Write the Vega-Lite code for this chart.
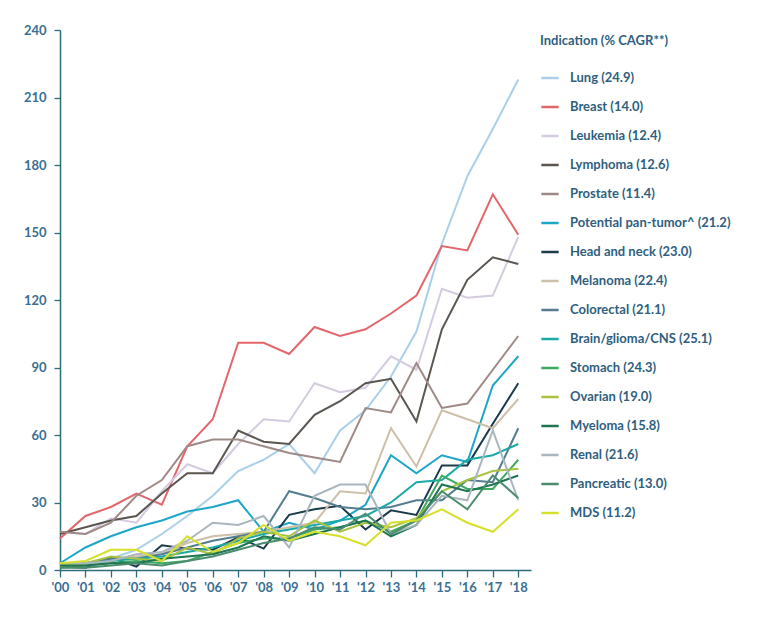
{
  "$schema": "https://vega.github.io/schema/vega-lite/v6.json",
  "autosize": {"type": "none"},
  "padding": {"left": 60, "top": 30, "right": 230, "bottom": 59},
  "width": 471,
  "height": 540,
  "background": "white",
  "config": {
    "font": "Lato",
    "view": {"stroke": null},
    "axis": {"grid": false, "domainColor": "#2b6d7c", "domainWidth": 1.5, "tickColor": "#2b6d7c", "tickWidth": 1.3, "labelColor": "#3a6f93", "labelFontSize": 13, "labelFontWeight": "bold", "titleColor": "#3a6f93"}
  },
  "datasets": {
    "rows": [
      {"s":"Lung (24.9)","x":2000,"v":2},{"s":"Lung (24.9)","x":2001,"v":3},{"s":"Lung (24.9)","x":2002,"v":5},{"s":"Lung (24.9)","x":2003,"v":9},{"s":"Lung (24.9)","x":2004,"v":16},{"s":"Lung (24.9)","x":2005,"v":24},{"s":"Lung (24.9)","x":2006,"v":33},{"s":"Lung (24.9)","x":2007,"v":44},{"s":"Lung (24.9)","x":2008,"v":49},{"s":"Lung (24.9)","x":2009,"v":56},{"s":"Lung (24.9)","x":2010,"v":43},{"s":"Lung (24.9)","x":2011,"v":62},{"s":"Lung (24.9)","x":2012,"v":71},{"s":"Lung (24.9)","x":2013,"v":86},{"s":"Lung (24.9)","x":2014,"v":106},{"s":"Lung (24.9)","x":2015,"v":145},{"s":"Lung (24.9)","x":2016,"v":175},{"s":"Lung (24.9)","x":2017,"v":196},{"s":"Lung (24.9)","x":2018,"v":218},
      {"s":"Breast (14.0)","x":2000,"v":14},{"s":"Breast (14.0)","x":2001,"v":24},{"s":"Breast (14.0)","x":2002,"v":28},{"s":"Breast (14.0)","x":2003,"v":34},{"s":"Breast (14.0)","x":2004,"v":29},{"s":"Breast (14.0)","x":2005,"v":55},{"s":"Breast (14.0)","x":2006,"v":67},{"s":"Breast (14.0)","x":2007,"v":101},{"s":"Breast (14.0)","x":2008,"v":101},{"s":"Breast (14.0)","x":2009,"v":96},{"s":"Breast (14.0)","x":2010,"v":108},{"s":"Breast (14.0)","x":2011,"v":104},{"s":"Breast (14.0)","x":2012,"v":107},{"s":"Breast (14.0)","x":2013,"v":114},{"s":"Breast (14.0)","x":2014,"v":122},{"s":"Breast (14.0)","x":2015,"v":144},{"s":"Breast (14.0)","x":2016,"v":142},{"s":"Breast (14.0)","x":2017,"v":167},{"s":"Breast (14.0)","x":2018,"v":149},
      {"s":"Leukemia (12.4)","x":2000,"v":17},{"s":"Leukemia (12.4)","x":2001,"v":16},{"s":"Leukemia (12.4)","x":2002,"v":23},{"s":"Leukemia (12.4)","x":2003,"v":21},{"s":"Leukemia (12.4)","x":2004,"v":35},{"s":"Leukemia (12.4)","x":2005,"v":47},{"s":"Leukemia (12.4)","x":2006,"v":43},{"s":"Leukemia (12.4)","x":2007,"v":56},{"s":"Leukemia (12.4)","x":2008,"v":67},{"s":"Leukemia (12.4)","x":2009,"v":66},{"s":"Leukemia (12.4)","x":2010,"v":83},{"s":"Leukemia (12.4)","x":2011,"v":79},{"s":"Leukemia (12.4)","x":2012,"v":81},{"s":"Leukemia (12.4)","x":2013,"v":95},{"s":"Leukemia (12.4)","x":2014,"v":89},{"s":"Leukemia (12.4)","x":2015,"v":125},{"s":"Leukemia (12.4)","x":2016,"v":121},{"s":"Leukemia (12.4)","x":2017,"v":122},{"s":"Leukemia (12.4)","x":2018,"v":148},
      {"s":"Lymphoma (12.6)","x":2000,"v":16},{"s":"Lymphoma (12.6)","x":2001,"v":19},{"s":"Lymphoma (12.6)","x":2002,"v":22},{"s":"Lymphoma (12.6)","x":2003,"v":24},{"s":"Lymphoma (12.6)","x":2004,"v":34},{"s":"Lymphoma (12.6)","x":2005,"v":43},{"s":"Lymphoma (12.6)","x":2006,"v":43},{"s":"Lymphoma (12.6)","x":2007,"v":62},{"s":"Lymphoma (12.6)","x":2008,"v":57},{"s":"Lymphoma (12.6)","x":2009,"v":56},{"s":"Lymphoma (12.6)","x":2010,"v":69},{"s":"Lymphoma (12.6)","x":2011,"v":75},{"s":"Lymphoma (12.6)","x":2012,"v":83},{"s":"Lymphoma (12.6)","x":2013,"v":85},{"s":"Lymphoma (12.6)","x":2014,"v":66},{"s":"Lymphoma (12.6)","x":2015,"v":107},{"s":"Lymphoma (12.6)","x":2016,"v":129},{"s":"Lymphoma (12.6)","x":2017,"v":139},{"s":"Lymphoma (12.6)","x":2018,"v":136},
      {"s":"Prostate (11.4)","x":2000,"v":17},{"s":"Prostate (11.4)","x":2001,"v":16},{"s":"Prostate (11.4)","x":2002,"v":21},{"s":"Prostate (11.4)","x":2003,"v":33},{"s":"Prostate (11.4)","x":2004,"v":40},{"s":"Prostate (11.4)","x":2005,"v":55},{"s":"Prostate (11.4)","x":2006,"v":58},{"s":"Prostate (11.4)","x":2007,"v":58},{"s":"Prostate (11.4)","x":2008,"v":55},{"s":"Prostate (11.4)","x":2009,"v":52},{"s":"Prostate (11.4)","x":2010,"v":50},{"s":"Prostate (11.4)","x":2011,"v":48},{"s":"Prostate (11.4)","x":2012,"v":72},{"s":"Prostate (11.4)","x":2013,"v":70},{"s":"Prostate (11.4)","x":2014,"v":92},{"s":"Prostate (11.4)","x":2015,"v":72},{"s":"Prostate (11.4)","x":2016,"v":74},{"s":"Prostate (11.4)","x":2017,"v":89},{"s":"Prostate (11.4)","x":2018,"v":104},
      {"s":"Potential pan-tumor^ (21.2)","x":2000,"v":3},{"s":"Potential pan-tumor^ (21.2)","x":2001,"v":10},{"s":"Potential pan-tumor^ (21.2)","x":2002,"v":15},{"s":"Potential pan-tumor^ (21.2)","x":2003,"v":19},{"s":"Potential pan-tumor^ (21.2)","x":2004,"v":22},{"s":"Potential pan-tumor^ (21.2)","x":2005,"v":26},{"s":"Potential pan-tumor^ (21.2)","x":2006,"v":28},{"s":"Potential pan-tumor^ (21.2)","x":2007,"v":31},{"s":"Potential pan-tumor^ (21.2)","x":2008,"v":17},{"s":"Potential pan-tumor^ (21.2)","x":2009,"v":21},{"s":"Potential pan-tumor^ (21.2)","x":2010,"v":18},{"s":"Potential pan-tumor^ (21.2)","x":2011,"v":22},{"s":"Potential pan-tumor^ (21.2)","x":2012,"v":29},{"s":"Potential pan-tumor^ (21.2)","x":2013,"v":51},{"s":"Potential pan-tumor^ (21.2)","x":2014,"v":43},{"s":"Potential pan-tumor^ (21.2)","x":2015,"v":51},{"s":"Potential pan-tumor^ (21.2)","x":2016,"v":48},{"s":"Potential pan-tumor^ (21.2)","x":2017,"v":82},{"s":"Potential pan-tumor^ (21.2)","x":2018,"v":95},
      {"s":"Head and neck (23.0)","x":2000,"v":1.5},{"s":"Head and neck (23.0)","x":2001,"v":1},{"s":"Head and neck (23.0)","x":2002,"v":5.5},{"s":"Head and neck (23.0)","x":2003,"v":1.5},{"s":"Head and neck (23.0)","x":2004,"v":11},{"s":"Head and neck (23.0)","x":2005,"v":9.5},{"s":"Head and neck (23.0)","x":2006,"v":9},{"s":"Head and neck (23.0)","x":2007,"v":14.5},{"s":"Head and neck (23.0)","x":2008,"v":9.5},{"s":"Head and neck (23.0)","x":2009,"v":24.5},{"s":"Head and neck (23.0)","x":2010,"v":27},{"s":"Head and neck (23.0)","x":2011,"v":28.5},{"s":"Head and neck (23.0)","x":2012,"v":18},{"s":"Head and neck (23.0)","x":2013,"v":26.5},{"s":"Head and neck (23.0)","x":2014,"v":24.5},{"s":"Head and neck (23.0)","x":2015,"v":46.5},{"s":"Head and neck (23.0)","x":2016,"v":46.5},{"s":"Head and neck (23.0)","x":2017,"v":65},{"s":"Head and neck (23.0)","x":2018,"v":83},
      {"s":"Melanoma (22.4)","x":2000,"v":2},{"s":"Melanoma (22.4)","x":2001,"v":2},{"s":"Melanoma (22.4)","x":2002,"v":4},{"s":"Melanoma (22.4)","x":2003,"v":6},{"s":"Melanoma (22.4)","x":2004,"v":7},{"s":"Melanoma (22.4)","x":2005,"v":12},{"s":"Melanoma (22.4)","x":2006,"v":15},{"s":"Melanoma (22.4)","x":2007,"v":16},{"s":"Melanoma (22.4)","x":2008,"v":17},{"s":"Melanoma (22.4)","x":2009,"v":19},{"s":"Melanoma (22.4)","x":2010,"v":21},{"s":"Melanoma (22.4)","x":2011,"v":35},{"s":"Melanoma (22.4)","x":2012,"v":34},{"s":"Melanoma (22.4)","x":2013,"v":63},{"s":"Melanoma (22.4)","x":2014,"v":46},{"s":"Melanoma (22.4)","x":2015,"v":71},{"s":"Melanoma (22.4)","x":2016,"v":67},{"s":"Melanoma (22.4)","x":2017,"v":63},{"s":"Melanoma (22.4)","x":2018,"v":76},
      {"s":"Colorectal (21.1)","x":2000,"v":2},{"s":"Colorectal (21.1)","x":2001,"v":3},{"s":"Colorectal (21.1)","x":2002,"v":5},{"s":"Colorectal (21.1)","x":2003,"v":5},{"s":"Colorectal (21.1)","x":2004,"v":7},{"s":"Colorectal (21.1)","x":2005,"v":10},{"s":"Colorectal (21.1)","x":2006,"v":13},{"s":"Colorectal (21.1)","x":2007,"v":15},{"s":"Colorectal (21.1)","x":2008,"v":17},{"s":"Colorectal (21.1)","x":2009,"v":35},{"s":"Colorectal (21.1)","x":2010,"v":32},{"s":"Colorectal (21.1)","x":2011,"v":28},{"s":"Colorectal (21.1)","x":2012,"v":27},{"s":"Colorectal (21.1)","x":2013,"v":28},{"s":"Colorectal (21.1)","x":2014,"v":31},{"s":"Colorectal (21.1)","x":2015,"v":31},{"s":"Colorectal (21.1)","x":2016,"v":40},{"s":"Colorectal (21.1)","x":2017,"v":39},{"s":"Colorectal (21.1)","x":2018,"v":63},
      {"s":"Brain/glioma/CNS (25.1)","x":2000,"v":2},{"s":"Brain/glioma/CNS (25.1)","x":2001,"v":3},{"s":"Brain/glioma/CNS (25.1)","x":2002,"v":4},{"s":"Brain/glioma/CNS (25.1)","x":2003,"v":5},{"s":"Brain/glioma/CNS (25.1)","x":2004,"v":6},{"s":"Brain/glioma/CNS (25.1)","x":2005,"v":8},{"s":"Brain/glioma/CNS (25.1)","x":2006,"v":10},{"s":"Brain/glioma/CNS (25.1)","x":2007,"v":13},{"s":"Brain/glioma/CNS (25.1)","x":2008,"v":16},{"s":"Brain/glioma/CNS (25.1)","x":2009,"v":18},{"s":"Brain/glioma/CNS (25.1)","x":2010,"v":20},{"s":"Brain/glioma/CNS (25.1)","x":2011,"v":22},{"s":"Brain/glioma/CNS (25.1)","x":2012,"v":24},{"s":"Brain/glioma/CNS (25.1)","x":2013,"v":30},{"s":"Brain/glioma/CNS (25.1)","x":2014,"v":39},{"s":"Brain/glioma/CNS (25.1)","x":2015,"v":40},{"s":"Brain/glioma/CNS (25.1)","x":2016,"v":49},{"s":"Brain/glioma/CNS (25.1)","x":2017,"v":51},{"s":"Brain/glioma/CNS (25.1)","x":2018,"v":56},
      {"s":"Stomach (24.3)","x":2000,"v":1},{"s":"Stomach (24.3)","x":2001,"v":2},{"s":"Stomach (24.3)","x":2002,"v":3},{"s":"Stomach (24.3)","x":2003,"v":4},{"s":"Stomach (24.3)","x":2004,"v":3},{"s":"Stomach (24.3)","x":2005,"v":4},{"s":"Stomach (24.3)","x":2006,"v":8},{"s":"Stomach (24.3)","x":2007,"v":12},{"s":"Stomach (24.3)","x":2008,"v":14},{"s":"Stomach (24.3)","x":2009,"v":14},{"s":"Stomach (24.3)","x":2010,"v":18},{"s":"Stomach (24.3)","x":2011,"v":19},{"s":"Stomach (24.3)","x":2012,"v":22},{"s":"Stomach (24.3)","x":2013,"v":17},{"s":"Stomach (24.3)","x":2014,"v":22},{"s":"Stomach (24.3)","x":2015,"v":42},{"s":"Stomach (24.3)","x":2016,"v":36},{"s":"Stomach (24.3)","x":2017,"v":36},{"s":"Stomach (24.3)","x":2018,"v":49},
      {"s":"Ovarian (19.0)","x":2000,"v":2},{"s":"Ovarian (19.0)","x":2001,"v":3},{"s":"Ovarian (19.0)","x":2002,"v":6},{"s":"Ovarian (19.0)","x":2003,"v":5},{"s":"Ovarian (19.0)","x":2004,"v":4},{"s":"Ovarian (19.0)","x":2005,"v":10},{"s":"Ovarian (19.0)","x":2006,"v":7},{"s":"Ovarian (19.0)","x":2007,"v":14},{"s":"Ovarian (19.0)","x":2008,"v":17},{"s":"Ovarian (19.0)","x":2009,"v":15},{"s":"Ovarian (19.0)","x":2010,"v":22},{"s":"Ovarian (19.0)","x":2011,"v":17},{"s":"Ovarian (19.0)","x":2012,"v":21},{"s":"Ovarian (19.0)","x":2013,"v":19},{"s":"Ovarian (19.0)","x":2014,"v":23},{"s":"Ovarian (19.0)","x":2015,"v":35},{"s":"Ovarian (19.0)","x":2016,"v":40},{"s":"Ovarian (19.0)","x":2017,"v":44},{"s":"Ovarian (19.0)","x":2018,"v":45},
      {"s":"Myeloma (15.8)","x":2000,"v":2},{"s":"Myeloma (15.8)","x":2001,"v":2},{"s":"Myeloma (15.8)","x":2002,"v":3},{"s":"Myeloma (15.8)","x":2003,"v":3},{"s":"Myeloma (15.8)","x":2004,"v":5},{"s":"Myeloma (15.8)","x":2005,"v":6},{"s":"Myeloma (15.8)","x":2006,"v":7},{"s":"Myeloma (15.8)","x":2007,"v":10},{"s":"Myeloma (15.8)","x":2008,"v":15},{"s":"Myeloma (15.8)","x":2009,"v":13},{"s":"Myeloma (15.8)","x":2010,"v":16},{"s":"Myeloma (15.8)","x":2011,"v":19},{"s":"Myeloma (15.8)","x":2012,"v":22},{"s":"Myeloma (15.8)","x":2013,"v":15},{"s":"Myeloma (15.8)","x":2014,"v":20},{"s":"Myeloma (15.8)","x":2015,"v":38},{"s":"Myeloma (15.8)","x":2016,"v":35},{"s":"Myeloma (15.8)","x":2017,"v":38},{"s":"Myeloma (15.8)","x":2018,"v":42},
      {"s":"Renal (21.6)","x":2000,"v":3},{"s":"Renal (21.6)","x":2001,"v":3},{"s":"Renal (21.6)","x":2002,"v":4},{"s":"Renal (21.6)","x":2003,"v":7},{"s":"Renal (21.6)","x":2004,"v":8},{"s":"Renal (21.6)","x":2005,"v":13},{"s":"Renal (21.6)","x":2006,"v":21},{"s":"Renal (21.6)","x":2007,"v":20},{"s":"Renal (21.6)","x":2008,"v":24},{"s":"Renal (21.6)","x":2009,"v":10},{"s":"Renal (21.6)","x":2010,"v":33},{"s":"Renal (21.6)","x":2011,"v":38},{"s":"Renal (21.6)","x":2012,"v":38},{"s":"Renal (21.6)","x":2013,"v":16},{"s":"Renal (21.6)","x":2014,"v":20},{"s":"Renal (21.6)","x":2015,"v":33},{"s":"Renal (21.6)","x":2016,"v":31},{"s":"Renal (21.6)","x":2017,"v":62},{"s":"Renal (21.6)","x":2018,"v":31},
      {"s":"Pancreatic (13.0)","x":2000,"v":1},{"s":"Pancreatic (13.0)","x":2001,"v":1},{"s":"Pancreatic (13.0)","x":2002,"v":2},{"s":"Pancreatic (13.0)","x":2003,"v":3},{"s":"Pancreatic (13.0)","x":2004,"v":2},{"s":"Pancreatic (13.0)","x":2005,"v":4},{"s":"Pancreatic (13.0)","x":2006,"v":6},{"s":"Pancreatic (13.0)","x":2007,"v":9},{"s":"Pancreatic (13.0)","x":2008,"v":12},{"s":"Pancreatic (13.0)","x":2009,"v":14},{"s":"Pancreatic (13.0)","x":2010,"v":19},{"s":"Pancreatic (13.0)","x":2011,"v":18},{"s":"Pancreatic (13.0)","x":2012,"v":25},{"s":"Pancreatic (13.0)","x":2013,"v":16},{"s":"Pancreatic (13.0)","x":2014,"v":22},{"s":"Pancreatic (13.0)","x":2015,"v":35},{"s":"Pancreatic (13.0)","x":2016,"v":27},{"s":"Pancreatic (13.0)","x":2017,"v":42},{"s":"Pancreatic (13.0)","x":2018,"v":32},
      {"s":"MDS (11.2)","x":2000,"v":3},{"s":"MDS (11.2)","x":2001,"v":4},{"s":"MDS (11.2)","x":2002,"v":9},{"s":"MDS (11.2)","x":2003,"v":9},{"s":"MDS (11.2)","x":2004,"v":4},{"s":"MDS (11.2)","x":2005,"v":15},{"s":"MDS (11.2)","x":2006,"v":8},{"s":"MDS (11.2)","x":2007,"v":12},{"s":"MDS (11.2)","x":2008,"v":20},{"s":"MDS (11.2)","x":2009,"v":13},{"s":"MDS (11.2)","x":2010,"v":17},{"s":"MDS (11.2)","x":2011,"v":15},{"s":"MDS (11.2)","x":2012,"v":11},{"s":"MDS (11.2)","x":2013,"v":21},{"s":"MDS (11.2)","x":2014,"v":22},{"s":"MDS (11.2)","x":2015,"v":27},{"s":"MDS (11.2)","x":2016,"v":21},{"s":"MDS (11.2)","x":2017,"v":17},{"s":"MDS (11.2)","x":2018,"v":27}
    ]
  },
  "data": {"name": "rows"},
  "mark": {"type": "line", "strokeWidth": 2, "clip": false},
  "encoding": {
    "x": {
      "field": "x", "type": "quantitative",
      "scale": {"domain": [2000, 2018.5], "nice": false, "zero": false},
      "axis": {"title": null, "values": [2000,2001,2002,2003,2004,2005,2006,2007,2008,2009,2010,2011,2012,2013,2014,2015,2016,2017,2018], "labelExpr": "\"'\" + substring(toString(datum.value), 2)", "labelOverlap": false, "labelFlush": false, "labelBound": false, "tickSize": 7, "labelPadding": 4}
    },
    "y": {
      "field": "v", "type": "quantitative",
      "scale": {"domain": [0, 240], "nice": false},
      "axis": {"title": null, "values": [0,30,60,90,120,150,180,210,240], "labelOverlap": false, "labelFlush": false, "tickSize": 6, "labelPadding": 8}
    },
    "color": {
      "field": "s", "type": "nominal",
      "scale": {
        "domain": ["Lung (24.9)","Breast (14.0)","Leukemia (12.4)","Lymphoma (12.6)","Prostate (11.4)","Potential pan-tumor^ (21.2)","Head and neck (23.0)","Melanoma (22.4)","Colorectal (21.1)","Brain/glioma/CNS (25.1)","Stomach (24.3)","Ovarian (19.0)","Myeloma (15.8)","Renal (21.6)","Pancreatic (13.0)","MDS (11.2)"],
        "range": ["#a9d0e8","#e3666b","#d4cbe0","#5a554e","#9e8985","#1ea6c8","#1b3a4b","#cdbfa8","#547d8f","#1aaaa6","#3daa5e","#a9c23f","#1d7552","#a9b6be","#4c8c6e","#d6e02a"]
      },
      "legend": {
        "title": "Indication (% CAGR**)",
        "orient": "none", "legendX": 480, "legendY": 5,
        "titleFontSize": 13, "titleFontWeight": "bold", "titleColor": "#2f5f80", "titlePadding": 20,
        "labelFontSize": 13, "labelFontWeight": "bold", "labelColor": "#2f5f80", "labelOffset": 10,
        "symbolType": "stroke", "symbolSize": 300, "symbolStrokeWidth": 2.5,
        "rowPadding": 12, "labelLimit": 300
      }
    },
    "order": {"field": "x", "type": "quantitative"}
  }
}
